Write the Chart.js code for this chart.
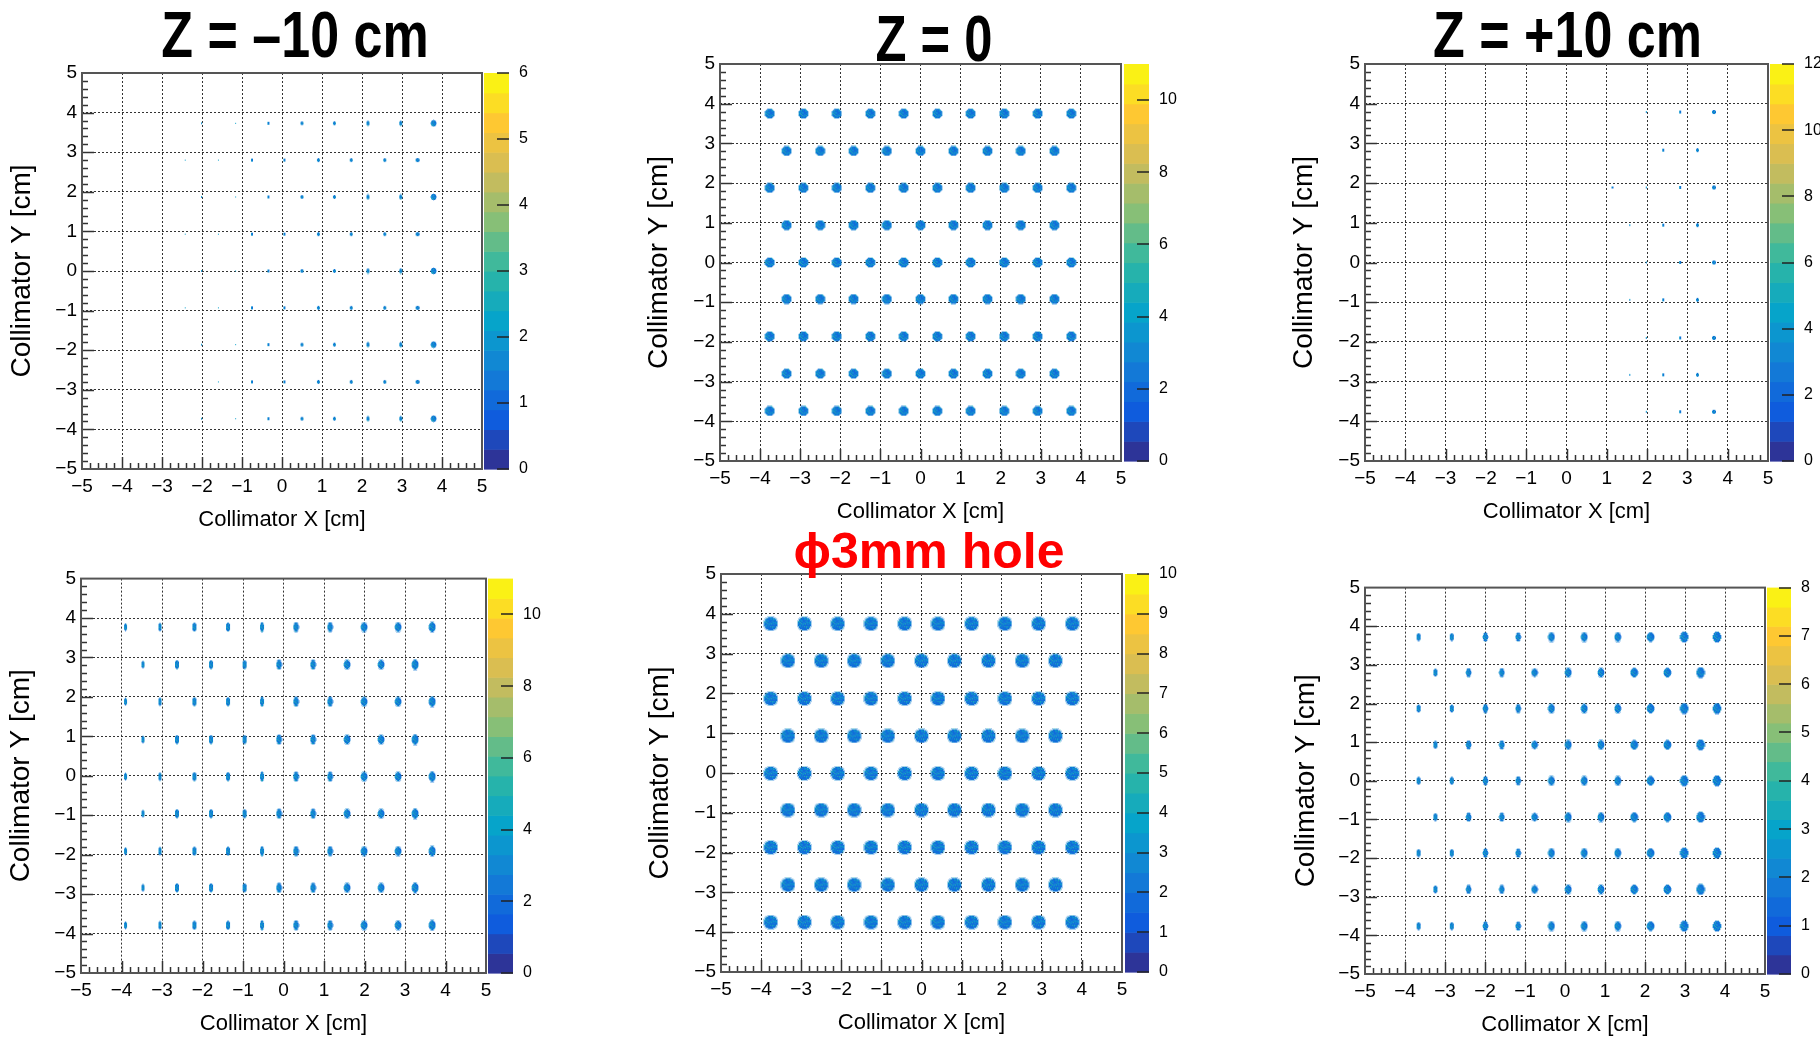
<!DOCTYPE html>
<html>
<head>
<meta charset="utf-8">
<script src="https://cdn.jsdelivr.net/npm/chart.js@4.4.1/dist/chart.umd.min.js"></script>
<style>
  body { margin: 0; background: #fff; }
  #page { position: relative; width: 1820px; height: 1039px; overflow: hidden; background: #fff; }
  .panel { position: absolute; }
  .panel canvas { display: block; }
</style>
</head>
<body>
<div id="page">
  <div class="panel" style="left:0px;top:0px"><canvas id="c1" width="542" height="533"></canvas></div>
  <div class="panel" style="left:635px;top:0px"><canvas id="c2" width="546" height="525"></canvas></div>
  <div class="panel" style="left:1280px;top:0px"><canvas id="c3" width="540" height="525"></canvas></div>
  <div class="panel" style="left:0px;top:540px"><canvas id="c4" width="546" height="497"></canvas></div>
  <div class="panel" style="left:637px;top:520px"><canvas id="c5" width="545" height="516"></canvas></div>
  <div class="panel" style="left:1281px;top:550px"><canvas id="c6" width="539" height="488"></canvas></div>
</div>
<script>
// hole columns are interleaved: even index -> rows with 10 holes, odd index -> rows with 9 holes
// X = column centre [cm], Y = row centre [cm], W/H = spot width/height [cm], Skip = [row, column] not seen

// Z = -10 cm
const zm10X = [null, null, null, -2.42, -2.01, -1.59, -1.16, -0.75, -0.34, 0.06, 0.50, 0.91, 1.31, 1.73, 2.15, 2.57, 2.97, 3.39, 3.79];
const zm10Y = [3.73, 2.80, 1.87, 0.93, 0.00, -0.93, -1.86, -2.80, -3.73];
const zm10W = [0, 0, 0, 0.025, 0.02, 0.035, 0.03, 0.05, 0.05, 0.055, 0.07, 0.07, 0.085, 0.07, 0.085, 0.085, 0.085, 0.11, 0.12];
const zm10H = [0, 0, 0, 0.03, 0.05, 0.035, 0.03, 0.085, 0.085, 0.085, 0.10, 0.10, 0.10, 0.10, 0.12, 0.10, 0.12, 0.10, 0.14];
const zm10Skip = [[7, 3]];

// Z = 0
const z0X = [-3.76, -3.34, -2.92, -2.50, -2.09, -1.67, -1.25, -0.84, -0.42, 0.00, 0.42, 0.82, 1.25, 1.67, 2.09, 2.50, 2.92, 3.34, 3.76];
const z0Y = [3.75, 2.81, 1.88, 0.94, 0.00, -0.92, -1.86, -2.80, -3.74];
const z0W = [0.23, 0.23, 0.23, 0.23, 0.23, 0.23, 0.23, 0.23, 0.23, 0.23, 0.23, 0.23, 0.23, 0.23, 0.23, 0.23, 0.23, 0.23, 0.23];
const z0H = [0.23, 0.23, 0.23, 0.23, 0.23, 0.23, 0.23, 0.23, 0.23, 0.23, 0.23, 0.23, 0.23, 0.23, 0.23, 0.23, 0.23, 0.23, 0.23];
const z0Skip = [];

// Z = +10 cm
const zp10X = [null, null, null, null, null, null, null, null, null, null, null, null, 1.14, 1.57, 1.98, 2.40, 2.82, 3.25, 3.66];
const zp10Y = [3.79, 2.83, 1.89, 0.94, 0.00, -0.94, -1.90, -2.83, -3.76];
const zp10W = [0, 0, 0, 0, 0, 0, 0, 0, 0, 0, 0, 0, 0.04, 0.035, 0.03, 0.04, 0.05, 0.07, 0.09];
const zp10H = [0, 0, 0, 0, 0, 0, 0, 0, 0, 0, 0, 0, 0.04, 0.06, 0.06, 0.07, 0.08, 0.09, 0.11];
const zp10Skip = [[0, 12], [4, 12], [6, 12], [8, 12], [1, 13]];

// lower left
const llX = [-3.90, -3.47, -3.05, -2.63, -2.20, -1.79, -1.37, -0.96, -0.53, -0.11, 0.31, 0.73, 1.15, 1.57, 1.99, 2.41, 2.83, 3.25, 3.67];
const llY = [3.77, 2.82, 1.88, 0.92, -0.02, -0.96, -1.91, -2.84, -3.79];
const llW = [0.07, 0.08, 0.08, 0.09, 0.09, 0.10, 0.10, 0.11, 0.11, 0.12, 0.12, 0.13, 0.13, 0.14, 0.14, 0.15, 0.15, 0.16, 0.16];
const llH = [0.19, 0.19, 0.20, 0.20, 0.20, 0.21, 0.21, 0.21, 0.22, 0.22, 0.22, 0.23, 0.23, 0.23, 0.24, 0.24, 0.24, 0.25, 0.25];
const llSkip = [];

// phi 3 mm hole
const h3X = [-3.76, -3.33, -2.92, -2.50, -2.09, -1.68, -1.26, -0.84, -0.42, 0.00, 0.41, 0.82, 1.25, 1.67, 2.08, 2.51, 2.92, 3.34, 3.76];
const h3Y = [3.75, 2.82, 1.87, 0.93, -0.01, -0.93, -1.87, -2.81, -3.75];
const h3W = [0.33, 0.33, 0.33, 0.33, 0.33, 0.33, 0.33, 0.33, 0.33, 0.33, 0.33, 0.33, 0.33, 0.33, 0.33, 0.33, 0.33, 0.33, 0.33];
const h3H = [0.33, 0.33, 0.33, 0.33, 0.33, 0.33, 0.33, 0.33, 0.33, 0.33, 0.33, 0.33, 0.33, 0.33, 0.33, 0.33, 0.33, 0.33, 0.33];
const h3Skip = [];

// lower right
const lrX = [-3.66, -3.24, -2.83, -2.41, -1.99, -1.58, -1.17, -0.76, -0.34, 0.08, 0.48, 0.90, 1.32, 1.73, 2.14, 2.56, 2.98, 3.39, 3.80];
const lrY = [3.72, 2.80, 1.87, 0.93, 0.00, -0.94, -1.87, -2.81, -3.76];
const lrW = [0.09, 0.11, 0.11, 0.12, 0.12, 0.13, 0.13, 0.14, 0.14, 0.15, 0.15, 0.16, 0.16, 0.17, 0.17, 0.18, 0.19, 0.19, 0.20];
const lrH = [0.17, 0.19, 0.19, 0.20, 0.20, 0.20, 0.21, 0.21, 0.22, 0.22, 0.22, 0.23, 0.23, 0.24, 0.24, 0.24, 0.25, 0.25, 0.26];
const lrSkip = [];

// colour axis ranges and labels
const colzMax = [6, 11, 12, 11, 10, 8];
const colzStep = [1, 2, 2, 2, 1, 1];
const panelTitles = ['Z = \u201310 cm', 'Z = 0', 'Z = +10 cm', '', '\u03d53mm hole', ''];
const xTitle = 'Collimator X [cm]';
const yTitle = 'Collimator Y [cm]';

// ROOT kBird palette
const birdStops = [0, 0.125, 0.25, 0.375, 0.5, 0.625, 0.75, 0.875, 1];
const birdR = [0.2082, 0.0592, 0.0780, 0.0232, 0.1802, 0.5301, 0.8186, 0.9956, 0.9764];
const birdG = [0.1664, 0.3599, 0.5041, 0.6419, 0.7178, 0.7492, 0.7328, 0.7862, 0.9832];
const birdB = [0.5293, 0.8684, 0.8385, 0.7914, 0.6425, 0.4662, 0.3499, 0.1968, 0.0539];

function bird(t) {
    t = Math.min(1, Math.max(0, t));
    const i = Math.min(7, Math.floor(t * 8));
    const f = (t - birdStops[i]) / (birdStops[i + 1] - birdStops[i]);
    const c = a => Math.round(255 * (a[i] + (a[i + 1] - a[i]) * f));
    return 'rgb(' + c(birdR) + ',' + c(birdG) + ',' + c(birdB) + ')';
}

// small speckled ellipse used as the point marker
const spotCache = {};
function spotImage(w, h) {
    w = Math.max(1, Math.round(w));
    h = Math.max(1, Math.round(h));
    const key = w + 'x' + h;
    if (spotCache[key]) return spotCache[key];
    const c = document.createElement('canvas');
    c.width = w + 2;
    c.height = h + 2;
    const g = c.getContext('2d');
    const cx = c.width / 2, cy = c.height / 2;
    const rx = Math.max(w / 2, 0.6), ry = Math.max(h / 2, 0.6);
    for (let j = 0; j < c.height; j++) {
        for (let i = 0; i < c.width; i++) {
            const dx = (i + 0.5 - cx) / rx, dy = (j + 0.5 - cy) / ry;
            const d = dx * dx + dy * dy;
            if (d > 1.5) continue;
            const n = (((i + 3) * 73856093) ^ ((j + 7) * 19349663)) >>> 0;
            const k = n % 10;
            let t = 0.18;
            if (k >= 5) t = 0.26;
            if (k === 8) t = 0.36;
            if (k === 9) t = 0.46;
            g.globalAlpha = d > 1 ? 0.35 : 1;
            g.fillStyle = bird(t);
            g.fillRect(i, j, 1, 1);
        }
    }
    spotCache[key] = c;
    return c;
}

function holePoints(X, Y, W, H, skip) {
    const pts = [];
    Y.forEach((y, r) => {
        X.forEach((x, c) => {
            if (x === null || c % 2 !== r % 2) return;
            if (skip.some(s => s[0] === r && s[1] === c)) return;
            pts.push({x: x, y: y, w: W[c], h: H[c]});
        });
    });
    return pts;
}

function intLabel(v) {
    if (Math.abs(v - Math.round(v)) > 1e-6) return '';
    const r = Math.round(v);
    return r < 0 ? '\u2212' + (-r) : String(r);
}

function isMajor(v) {
    return Math.abs(v - Math.round(v)) < 1e-6;
}

function gridColor(c) {
    const v = c.tick ? c.tick.value : 0;
    if (!isMajor(v) || Math.abs(v) > 4.5) return 'rgba(0,0,0,0)';
    return '#333';
}

const sansFont = "'Liberation Sans', Arial, sans-serif";

// frame, inside tick marks and the colour bar
const frameAndPalette = {
    id: 'frameAndPalette',
    afterDatasetsDraw(chart, args, opts) {
        const {ctx, chartArea: a, scales} = chart;
        const z = scales.z;
        ctx.save();

        const cbL = a.right + opts.barGap, cbW = opts.barWidth, nCont = 20;
        for (let k = 0; k < nCont; k++) {
            const y0 = z.getPixelForValue(k * z.max / nCont);
            const y1 = z.getPixelForValue((k + 1) * z.max / nCont);
            ctx.fillStyle = bird((k + 0.5) / nCont);
            ctx.fillRect(cbL, y1, cbW, y0 - y1 + 0.6);
        }
        ctx.strokeStyle = '#222';
        ctx.lineWidth = 1.5;
        z.ticks.forEach(t => {
            const y = Math.round(z.getPixelForValue(t.value));
            ctx.beginPath();
            ctx.moveTo(cbL + cbW - 12, y);
            ctx.lineTo(cbL + cbW, y);
            ctx.stroke();
        });

        ctx.strokeStyle = '#333';
        ctx.lineWidth = 1.5;
        scales.x.ticks.forEach(t => {
            if (Math.abs(t.value) > 4.95) return;
            const x = Math.round(scales.x.getPixelForValue(t.value)) + 0.5;
            const len = isMajor(t.value) ? 12 : 6;
            ctx.beginPath();
            ctx.moveTo(x, a.bottom);
            ctx.lineTo(x, a.bottom - len);
            ctx.stroke();
        });
        scales.y.ticks.forEach(t => {
            if (Math.abs(t.value) > 4.95) return;
            const y = Math.round(scales.y.getPixelForValue(t.value)) + 0.5;
            const len = isMajor(t.value) ? 12 : 6;
            ctx.beginPath();
            ctx.moveTo(a.left, y);
            ctx.lineTo(a.left + len, y);
            ctx.stroke();
        });

        ctx.strokeStyle = '#555';
        ctx.lineWidth = 2;
        ctx.strokeRect(a.left, a.top, a.right - a.left, a.bottom - a.top);
        ctx.restore();
    }
};

// big condensed heading above a pad
const panelTitle = {
    id: 'panelTitle',
    afterDraw(chart, args, opts) {
        if (!opts.text) return;
        const {ctx, chartArea: a} = chart;
        ctx.save();
        ctx.font = 'bold ' + opts.size + 'px ' + sansFont;
        ctx.fillStyle = opts.color;
        ctx.textAlign = 'center';
        ctx.textBaseline = 'alphabetic';
        ctx.translate((a.left + a.right) / 2 + opts.dx, a.top - opts.dy);
        ctx.scale(opts.squeeze, 1);
        ctx.fillText(opts.text, 0, 0);
        ctx.restore();
    }
};

// per panel layout: axis box sizes, paddings, colour bar and heading placement
const boxes = [
    {yW: 82, zW: 60, yPad: 5.6, top: 73, cbGap: 2, cbW: 25, tDx: 13, tDy: 16, tSize: 65, tSq: 0.8},
    {yW: 85, zW: 60, yPad: 7.2, top: 64, cbGap: 3, cbW: 25, tDx: 13.5, tDy: 2.7, tSize: 65, tSq: 0.78},
    {yW: 85, zW: 52, yPad: 7.6, top: 64, cbGap: 2, cbW: 24, tDx: 1, tDy: 7.2, tSize: 65, tSq: 0.8},
    {yW: 81, zW: 60, yPad: 4.6, top: 29, cbGap: 2, cbW: 25},
    {yW: 84, zW: 60, yPad: 6.6, top: 54, cbGap: 3, cbW: 24, tDx: 7.5, tDy: 6, tSize: 50, tSq: 1},
    {yW: 84, zW: 55, yPad: 8, top: 32, cbGap: 2, cbW: 24}
];

const panelData = [
    [zm10X, zm10Y, zm10W, zm10H, zm10Skip],
    [z0X, z0Y, z0W, z0H, z0Skip],
    [zp10X, zp10Y, zp10W, zp10H, zp10Skip],
    [llX, llY, llW, llH, llSkip],
    [h3X, h3Y, h3W, h3H, h3Skip],
    [lrX, lrY, lrW, lrH, lrSkip]
];

function drawPanel(idx) {
    const box = boxes[idx];
    const d = panelData[idx];
    const ctx = document.getElementById('c' + (idx + 1)).getContext('2d');

    new Chart(ctx, {
        type: 'scatter',
        data: {
            datasets: [{
                data: holePoints(d[0], d[1], d[2], d[3], d[4]),
                pointRadius: 1,
                backgroundColor: '#1f7fd6',
                borderWidth: 0,
                pointStyle: function(c) {
                    const sx = c.chart.scales.x, sy = c.chart.scales.y;
                    const kx = sx.getPixelForValue(1) - sx.getPixelForValue(0);
                    const ky = sy.getPixelForValue(0) - sy.getPixelForValue(1);
                    return spotImage(c.raw.w * kx, c.raw.h * ky);
                }
            }]
        },
        options: {
            responsive: false,
            animation: false,
            events: [],
            layout: {padding: {top: box.top, left: 0, right: 0, bottom: 0}},
            plugins: {
                legend: {display: false},
                tooltip: {enabled: false},
                title: {display: false},
                frameAndPalette: {barGap: box.cbGap, barWidth: box.cbW},
                panelTitle: {
                    text: panelTitles[idx],
                    color: idx === 4 ? '#ff0000' : '#000',
                    size: box.tSize, dx: box.tDx, dy: box.tDy, squeeze: box.tSq
                }
            },
            scales: {
                x: {
                    type: 'linear',
                    position: 'bottom',
                    min: -5,
                    max: 5,
                    afterFit: s => { s.height = 64; },
                    ticks: {
                        stepSize: 0.2, autoSkip: false, maxTicksLimit: 100,
                        maxRotation: 0, minRotation: 0, includeBounds: false,
                        padding: 6, color: '#000',
                        font: {family: sansFont, size: 19},
                        callback: intLabel
                    },
                    grid: {color: gridColor, lineWidth: 1, drawTicks: false},
                    border: {display: false, dash: [2, 2]},
                    title: {display: true, text: xTitle, color: '#000', font: {family: sansFont, size: 22}, padding: 0}
                },
                y: {
                    type: 'linear',
                    position: 'left',
                    min: -5,
                    max: 5,
                    afterFit: s => { s.width = box.yW; },
                    ticks: {
                        stepSize: 0.2, autoSkip: false, maxTicksLimit: 100,
                        includeBounds: false, padding: 5, color: '#000',
                        font: {family: sansFont, size: 19},
                        callback: intLabel
                    },
                    grid: {color: gridColor, lineWidth: 1, drawTicks: false},
                    border: {display: false, dash: [2, 2]},
                    title: {display: true, text: yTitle, color: '#000', font: {family: sansFont, size: 28}, padding: {top: box.yPad, bottom: 0}}
                },
                z: {
                    type: 'linear',
                    axis: 'y',
                    position: 'right',
                    min: 0,
                    max: colzMax[idx],
                    afterFit: s => { s.width = box.zW; },
                    ticks: {
                        stepSize: colzStep[idx], includeBounds: false,
                        padding: box.cbGap + box.cbW + 2, color: '#000',
                        font: {family: sansFont, size: 16}
                    },
                    grid: {display: false, drawOnChartArea: false},
                    border: {display: false}
                }
            }
        },
        plugins: [frameAndPalette, panelTitle]
    });
}

for (let i = 0; i < 6; i++) {
    drawPanel(i);
}
</script>
</body>
</html>
